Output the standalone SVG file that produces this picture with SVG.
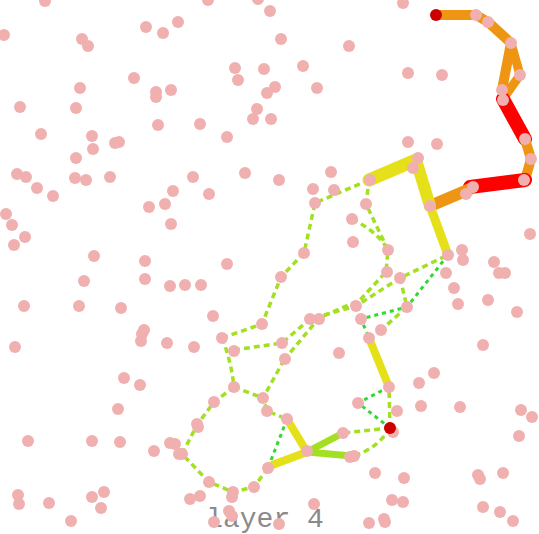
<svg xmlns="http://www.w3.org/2000/svg" width="539" height="534" viewBox="0 0 539 534">
<style>
.n circle{fill:#f1b0b0}
.s circle{fill:#cc0000}
.t{stroke-linecap:round;stroke-linejoin:round;fill:none}
.o{stroke:#ee9614}
.r{stroke:#ff0000}
.y{stroke:#e6e01a}
.l{stroke:#a2e021}
.dl{stroke:#a2e021;stroke-width:3.5;stroke-dasharray:6 4;fill:none}
.dg{stroke:#2fdb2f;stroke-width:3;stroke-dasharray:4 4;fill:none}
text{font-family:"Liberation Mono",monospace;font-size:28px;fill:#8a8a8a}
</style>
<text x="265" y="527" text-anchor="middle">layer 4</text>
<g id="connectors">
<polyline class="dl" points="369,180 315,203 304,253 281,277 262,324 222,338"/>
<path class="dl" d="M222,338 Q231,360 234,387"/>
<polyline class="dl" points="234,350 282,343 310,319 356,306 400,278 448,255"/>
<polyline class="dl" points="284,360 319,318 360,300 386,272 388,250 366,204 369,180"/>
<path class="dl" d="M352,219 Q378,232 388,250"/>
<polyline class="dl" points="400,278 407,307 381,330"/>
<polyline class="dl" points="284,360 263,398 267,411 287,419"/>
<polyline class="dl" points="234,387 263,398"/>
<polyline class="dl" points="234,387 214,402 197,425 182,454 209,482 233,492 254,487 268,468"/>
<polyline class="dl" points="390,428 389,387"/>
<polyline class="dl" points="390,428 343,433"/>
<path class="dl" d="M390,428 Q378,448 354,456"/>
<polyline class="dg" points="448,255 407,307 361,319 369,338"/>
<polyline class="dg" points="389,387 358,403 390,428"/>
<polyline class="dg" points="287,419 268,468"/>
<polyline class="t o" stroke-width="10" points="436,15 476,15 488,22 511,43 502,90"/>
<polyline class="t o" stroke-width="9" points="511,43 520,75 503,99"/>
<polyline class="t r" stroke-width="14" points="503,99 525,139"/>
<polyline class="t o" stroke-width="10" points="525,139 531,159 525,180"/>
<polyline class="t r" stroke-width="14" points="525,180 470,187"/>
<polyline class="t o" stroke-width="12" points="470,189 430,206"/>
<polyline class="t y" stroke-width="13" points="369,180 416,160"/>
<polyline class="t y" stroke-width="12" points="416,160 430,206"/>
<polyline class="t y" stroke-width="9" points="430,206 448,255"/>
<polyline class="t y" stroke-width="8" points="369,338 389,387"/>
<polyline class="t y" stroke-width="8" points="287,419 307,452 267,467"/>
<polyline class="t l" stroke-width="7" points="343,433 307,452 352,456"/>
</g>
<g id="nodes">
<g id="n1" class="n"><circle cx="45" cy="1" r="6"/></g>
<g id="n2" class="n"><circle cx="208" cy="0" r="6"/></g>
<g id="n3" class="n"><circle cx="258" cy="-1" r="6"/></g>
<g id="n4" class="n"><circle cx="403" cy="3" r="6"/></g>
<g id="n5" class="n"><circle cx="270" cy="11" r="6"/></g>
<g id="n6" class="n"><circle cx="146" cy="27" r="6"/></g>
<g id="n7" class="n"><circle cx="163" cy="33" r="6"/></g>
<g id="n8" class="n"><circle cx="178" cy="22" r="6"/></g>
<g id="n9" class="n"><circle cx="4" cy="35" r="6"/></g>
<g id="n10" class="n"><circle cx="82" cy="39" r="6"/></g>
<g id="n11" class="n"><circle cx="88" cy="46" r="6"/></g>
<g id="n12" class="n"><circle cx="281" cy="39" r="6"/></g>
<g id="n13" class="n"><circle cx="349" cy="46" r="6"/></g>
<g id="n14" class="n"><circle cx="134" cy="78" r="6"/></g>
<g id="n15" class="n"><circle cx="156" cy="92" r="6"/></g>
<g id="n16" class="n"><circle cx="156" cy="97" r="6"/></g>
<g id="n17" class="n"><circle cx="171" cy="90" r="6"/></g>
<g id="n18" class="n"><circle cx="80" cy="88" r="6"/></g>
<g id="n19" class="n"><circle cx="235" cy="68" r="6"/></g>
<g id="n20" class="n"><circle cx="264" cy="69" r="6"/></g>
<g id="n21" class="n"><circle cx="303" cy="66" r="6"/></g>
<g id="n22" class="n"><circle cx="238" cy="80" r="6"/></g>
<g id="n23" class="n"><circle cx="275" cy="87" r="6"/></g>
<g id="n24" class="n"><circle cx="267" cy="93" r="6"/></g>
<g id="n25" class="n"><circle cx="317" cy="88" r="6"/></g>
<g id="n26" class="n"><circle cx="408" cy="73" r="6"/></g>
<g id="n27" class="n"><circle cx="442" cy="75" r="6"/></g>
<g id="n28" class="n"><circle cx="20" cy="107" r="6"/></g>
<g id="n29" class="n"><circle cx="76" cy="108" r="6"/></g>
<g id="n30" class="n"><circle cx="257" cy="109" r="6"/></g>
<g id="n31" class="n"><circle cx="253" cy="119" r="6"/></g>
<g id="n32" class="n"><circle cx="271" cy="119" r="6"/></g>
<g id="n33" class="n"><circle cx="200" cy="124" r="6"/></g>
<g id="n34" class="n"><circle cx="158" cy="125" r="6"/></g>
<g id="n35" class="n"><circle cx="41" cy="134" r="6"/></g>
<g id="n36" class="n"><circle cx="92" cy="136" r="6"/></g>
<g id="n37" class="n"><circle cx="115" cy="143" r="6"/></g>
<g id="n38" class="n"><circle cx="119" cy="142" r="6"/></g>
<g id="n39" class="n"><circle cx="227" cy="137" r="6"/></g>
<g id="n40" class="n"><circle cx="93" cy="149" r="6"/></g>
<g id="n41" class="n"><circle cx="76" cy="158" r="6"/></g>
<g id="n42" class="n"><circle cx="408" cy="142" r="6"/></g>
<g id="n43" class="n"><circle cx="437" cy="144" r="6"/></g>
<g id="n44" class="n"><circle cx="17" cy="174" r="6"/></g>
<g id="n45" class="n"><circle cx="26" cy="177" r="6"/></g>
<g id="n46" class="n"><circle cx="75" cy="178" r="6"/></g>
<g id="n47" class="n"><circle cx="86" cy="180" r="6"/></g>
<g id="n48" class="n"><circle cx="110" cy="177" r="6"/></g>
<g id="n49" class="n"><circle cx="193" cy="177" r="6"/></g>
<g id="n50" class="n"><circle cx="245" cy="173" r="6"/></g>
<g id="n51" class="n"><circle cx="279" cy="180" r="6"/></g>
<g id="n52" class="n"><circle cx="331" cy="172" r="6"/></g>
<g id="n53" class="n"><circle cx="37" cy="188" r="6"/></g>
<g id="n54" class="n"><circle cx="53" cy="196" r="6"/></g>
<g id="n55" class="n"><circle cx="173" cy="191" r="6"/></g>
<g id="n56" class="n"><circle cx="149" cy="207" r="6"/></g>
<g id="n57" class="n"><circle cx="165" cy="204" r="6"/></g>
<g id="n58" class="n"><circle cx="171" cy="224" r="6"/></g>
<g id="n59" class="n"><circle cx="209" cy="194" r="6"/></g>
<g id="n60" class="n"><circle cx="6" cy="214" r="6"/></g>
<g id="n61" class="n"><circle cx="12" cy="225" r="6"/></g>
<g id="n62" class="n"><circle cx="25" cy="237" r="6"/></g>
<g id="n63" class="n"><circle cx="14" cy="245" r="6"/></g>
<g id="n64" class="n"><circle cx="94" cy="256" r="6"/></g>
<g id="n65" class="n"><circle cx="145" cy="261" r="6"/></g>
<g id="n66" class="n"><circle cx="84" cy="281" r="6"/></g>
<g id="n67" class="n"><circle cx="145" cy="279" r="6"/></g>
<g id="n68" class="n"><circle cx="170" cy="286" r="6"/></g>
<g id="n69" class="n"><circle cx="185" cy="285" r="6"/></g>
<g id="n70" class="n"><circle cx="201" cy="285" r="6"/></g>
<g id="n71" class="n"><circle cx="227" cy="264" r="6"/></g>
<g id="n72" class="n"><circle cx="24" cy="306" r="6"/></g>
<g id="n73" class="n"><circle cx="79" cy="306" r="6"/></g>
<g id="n74" class="n"><circle cx="121" cy="308" r="6"/></g>
<g id="n75" class="n"><circle cx="144" cy="330" r="6"/></g>
<g id="n76" class="n"><circle cx="142" cy="334" r="6"/></g>
<g id="n77" class="n"><circle cx="141" cy="341" r="6"/></g>
<g id="n78" class="n"><circle cx="167" cy="343" r="6"/></g>
<g id="n79" class="n"><circle cx="194" cy="347" r="6"/></g>
<g id="n80" class="n"><circle cx="15" cy="347" r="6"/></g>
<g id="n81" class="n"><circle cx="213" cy="316" r="6"/></g>
<g id="n82" class="n"><circle cx="476" cy="15" r="6"/></g>
<g id="n83" class="n"><circle cx="488" cy="22" r="6"/></g>
<g id="n84" class="n"><circle cx="511" cy="43" r="6"/></g>
<g id="n85" class="n"><circle cx="520" cy="75" r="6"/></g>
<g id="n86" class="n"><circle cx="502" cy="90" r="6"/></g>
<g id="n87" class="n"><circle cx="503" cy="100" r="6"/></g>
<g id="n88" class="n"><circle cx="525" cy="139" r="6"/></g>
<g id="n89" class="n"><circle cx="531" cy="159" r="6"/></g>
<g id="n90" class="n"><circle cx="524" cy="180" r="6"/></g>
<g id="n91" class="n"><circle cx="473" cy="187" r="6"/></g>
<g id="n92" class="n"><circle cx="466" cy="194" r="6"/></g>
<g id="n93" class="n"><circle cx="430" cy="206" r="6"/></g>
<g id="n94" class="n"><circle cx="418" cy="158" r="6"/></g>
<g id="n95" class="n"><circle cx="413" cy="168" r="6"/></g>
<g id="n96" class="n"><circle cx="370" cy="180" r="6"/></g>
<g id="n97" class="n"><circle cx="313" cy="189" r="6"/></g>
<g id="n98" class="n"><circle cx="334" cy="190" r="6"/></g>
<g id="n99" class="n"><circle cx="315" cy="203" r="6"/></g>
<g id="n100" class="n"><circle cx="352" cy="219" r="6"/></g>
<g id="n101" class="n"><circle cx="353" cy="242" r="6"/></g>
<g id="n102" class="n"><circle cx="366" cy="204" r="6"/></g>
<g id="n103" class="n"><circle cx="388" cy="250" r="6"/></g>
<g id="n104" class="n"><circle cx="304" cy="253" r="6"/></g>
<g id="n105" class="n"><circle cx="281" cy="277" r="6"/></g>
<g id="n106" class="n"><circle cx="262" cy="324" r="6"/></g>
<g id="n107" class="n"><circle cx="222" cy="338" r="6"/></g>
<g id="n108" class="n"><circle cx="234" cy="351" r="6"/></g>
<g id="n109" class="n"><circle cx="310" cy="319" r="6"/></g>
<g id="n110" class="n"><circle cx="319" cy="319" r="6"/></g>
<g id="n111" class="n"><circle cx="356" cy="306" r="6"/></g>
<g id="n112" class="n"><circle cx="361" cy="319" r="6"/></g>
<g id="n113" class="n"><circle cx="282" cy="343" r="6"/></g>
<g id="n114" class="n"><circle cx="285" cy="359" r="6"/></g>
<g id="n115" class="n"><circle cx="339" cy="353" r="6"/></g>
<g id="n116" class="n"><circle cx="387" cy="272" r="6"/></g>
<g id="n117" class="n"><circle cx="400" cy="278" r="6"/></g>
<g id="n118" class="n"><circle cx="407" cy="307" r="6"/></g>
<g id="n119" class="n"><circle cx="381" cy="330" r="6"/></g>
<g id="n120" class="n"><circle cx="369" cy="338" r="6"/></g>
<g id="n121" class="n"><circle cx="448" cy="255" r="6"/></g>
<g id="n122" class="n"><circle cx="462" cy="250" r="6"/></g>
<g id="n123" class="n"><circle cx="463" cy="260" r="6"/></g>
<g id="n124" class="n"><circle cx="446" cy="273" r="6"/></g>
<g id="n125" class="n"><circle cx="454" cy="288" r="6"/></g>
<g id="n126" class="n"><circle cx="458" cy="304" r="6"/></g>
<g id="n127" class="n"><circle cx="488" cy="300" r="6"/></g>
<g id="n128" class="n"><circle cx="494" cy="262" r="6"/></g>
<g id="n129" class="n"><circle cx="499" cy="273" r="6"/></g>
<g id="n130" class="n"><circle cx="505" cy="273" r="6"/></g>
<g id="n131" class="n"><circle cx="517" cy="312" r="6"/></g>
<g id="n132" class="n"><circle cx="530" cy="234" r="6"/></g>
<g id="n133" class="n"><circle cx="483" cy="345" r="6"/></g>
<g id="n134" class="n"><circle cx="124" cy="378" r="6"/></g>
<g id="n135" class="n"><circle cx="140" cy="385" r="6"/></g>
<g id="n136" class="n"><circle cx="118" cy="409" r="6"/></g>
<g id="n137" class="n"><circle cx="28" cy="441" r="6"/></g>
<g id="n138" class="n"><circle cx="92" cy="441" r="6"/></g>
<g id="n139" class="n"><circle cx="120" cy="442" r="6"/></g>
<g id="n140" class="n"><circle cx="170" cy="443" r="6"/></g>
<g id="n141" class="n"><circle cx="175" cy="444" r="6"/></g>
<g id="n142" class="n"><circle cx="154" cy="451" r="6"/></g>
<g id="n143" class="n"><circle cx="179" cy="454" r="6"/></g>
<g id="n144" class="n"><circle cx="18" cy="495" r="6"/></g>
<g id="n145" class="n"><circle cx="19" cy="504" r="6"/></g>
<g id="n146" class="n"><circle cx="49" cy="503" r="6"/></g>
<g id="n147" class="n"><circle cx="92" cy="497" r="6"/></g>
<g id="n148" class="n"><circle cx="104" cy="492" r="6"/></g>
<g id="n149" class="n"><circle cx="101" cy="508" r="6"/></g>
<g id="n150" class="n"><circle cx="71" cy="521" r="6"/></g>
<g id="n151" class="n"><circle cx="234" cy="387" r="6"/></g>
<g id="n152" class="n"><circle cx="214" cy="402" r="6"/></g>
<g id="n153" class="n"><circle cx="263" cy="398" r="6"/></g>
<g id="n154" class="n"><circle cx="267" cy="411" r="6"/></g>
<g id="n155" class="n"><circle cx="287" cy="419" r="6"/></g>
<g id="n156" class="n"><circle cx="197" cy="424" r="6"/></g>
<g id="n157" class="n"><circle cx="198" cy="427" r="6"/></g>
<g id="n158" class="n"><circle cx="182" cy="454" r="6"/></g>
<g id="n159" class="n"><circle cx="209" cy="482" r="6"/></g>
<g id="n160" class="n"><circle cx="254" cy="487" r="6"/></g>
<g id="n161" class="n"><circle cx="233" cy="492" r="6"/></g>
<g id="n162" class="n"><circle cx="232" cy="497" r="6"/></g>
<g id="n163" class="n"><circle cx="190" cy="499" r="6"/></g>
<g id="n164" class="n"><circle cx="200" cy="496" r="6"/></g>
<g id="n165" class="n"><circle cx="229" cy="511" r="6"/></g>
<g id="n166" class="n"><circle cx="214" cy="522" r="6"/></g>
<g id="n167" class="n"><circle cx="232" cy="516" r="6"/></g>
<g id="n168" class="n"><circle cx="268" cy="468" r="6"/></g>
<g id="n169" class="n"><circle cx="307" cy="451" r="6"/></g>
<g id="n170" class="n"><circle cx="343" cy="433" r="6"/></g>
<g id="n171" class="n"><circle cx="350" cy="457" r="6"/></g>
<g id="n172" class="n"><circle cx="354" cy="456" r="6"/></g>
<g id="n173" class="n"><circle cx="314" cy="504" r="6"/></g>
<g id="n174" class="n"><circle cx="279" cy="524" r="6"/></g>
<g id="n175" class="n"><circle cx="358" cy="403" r="6"/></g>
<g id="n176" class="n"><circle cx="434" cy="373" r="6"/></g>
<g id="n177" class="n"><circle cx="419" cy="383" r="6"/></g>
<g id="n178" class="n"><circle cx="389" cy="387" r="6"/></g>
<g id="n179" class="n"><circle cx="421" cy="406" r="6"/></g>
<g id="n180" class="n"><circle cx="460" cy="407" r="6"/></g>
<g id="n181" class="n"><circle cx="397" cy="411" r="6"/></g>
<g id="n182" class="n"><circle cx="521" cy="410" r="6"/></g>
<g id="n183" class="n"><circle cx="532" cy="417" r="6"/></g>
<g id="n184" class="n"><circle cx="393" cy="432" r="6"/></g>
<g id="n185" class="n"><circle cx="519" cy="436" r="6"/></g>
<g id="n186" class="n"><circle cx="375" cy="473" r="6"/></g>
<g id="n187" class="n"><circle cx="404" cy="478" r="6"/></g>
<g id="n188" class="n"><circle cx="478" cy="475" r="6"/></g>
<g id="n189" class="n"><circle cx="480" cy="479" r="6"/></g>
<g id="n190" class="n"><circle cx="503" cy="473" r="6"/></g>
<g id="n191" class="n"><circle cx="392" cy="500" r="6"/></g>
<g id="n192" class="n"><circle cx="403" cy="502" r="6"/></g>
<g id="n193" class="n"><circle cx="483" cy="507" r="6"/></g>
<g id="n194" class="n"><circle cx="500" cy="512" r="6"/></g>
<g id="n195" class="n"><circle cx="513" cy="521" r="6"/></g>
<g id="n196" class="n"><circle cx="369" cy="523" r="6"/></g>
<g id="n197" class="n"><circle cx="384" cy="519" r="6"/></g>
<g id="n198" class="n"><circle cx="385" cy="522" r="6"/></g>
<g id="s1" class="s"><circle cx="436" cy="15" r="6"/></g>
<g id="s2" class="s"><circle cx="390" cy="428" r="6"/></g>
</g>
</svg>
